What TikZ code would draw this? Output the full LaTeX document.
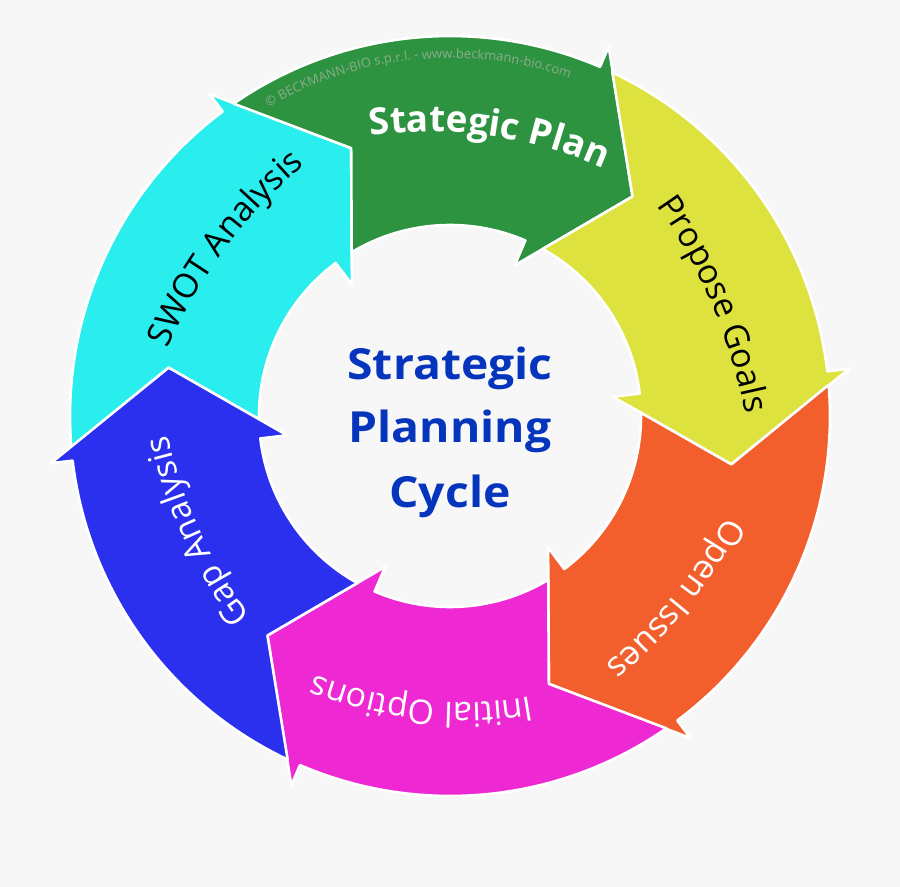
\documentclass[tikz,border=0pt]{standalone}
\usepackage{fontspec}
\setmainfont{Open Sans}
\usetikzlibrary{decorations.text,calc}
\definecolor{bgc}{RGB}{247,247,247}
\definecolor{cgreen}{RGB}{45,147,65}
\definecolor{cyellow}{RGB}{221,226,63}
\definecolor{corange}{RGB}{242,95,44}
\definecolor{cmagenta}{RGB}{238,41,212}
\definecolor{cblue}{RGB}{43,47,238}
\definecolor{ccyan}{RGB}{42,237,237}
\definecolor{ctitle}{RGB}{5,52,189}
\definecolor{cmark}{RGB}{140,172,140}
\newcommand\lblW{\fontsize{34}{40}\selectfont\color{white}}
\newcommand\lblK{\fontsize{34}{40}\selectfont\color{black}}
\newcommand\lblB{\fontsize{37}{44}\selectfont\bfseries\color{white}}
\newcommand\lblM{\fontsize{13}{16}\selectfont\color{cmark}}
% ring arrow: #1 colour, #2 barb angle of its head
\newcommand\ringarrow[2]{%
  \pgfmathsetmacro\ta{#2+60-2.04}%
  \pgfmathsetmacro\tb{#2+60-5.78}%
  \pgfmathsetmacro\tc{#2+60-16.5}%
  \pgfmathsetmacro\td{#2-16.5}%
  \filldraw[fill=#1, arrowedge]
    (\ta:380) arc[start angle=\ta, end angle=#2, radius=380]
    -- (#2:402) -- (\td:285.5) -- (#2:164) -- (#2:191)
    arc[start angle=#2, end angle=\tb, radius=191]
    -- (\tc:285.5) -- cycle;}
% label along a clockwise arc: #1 mid angle, #2 baseline radius, #3 curvature radius, #4 format, #5 text
\newcommand\arclabel[5]{%
  \pgfmathsetmacro\la{#1+25}%
  \pgfmathsetmacro\lb{#1-25}%
  \pgfmathsetmacro\lc{#1+180}%
  \path[decorate,decoration={text along path,text align=center,text={|#4|#5}}]
    ($(#1:#2)+(\lc:#3)+(\la:#3)$) arc[start angle=\la, end angle=\lb, radius=#3];}
\tikzset{
  arrowedge/.style={draw=white, line width=2.6bp, line join=round},
  titlestyle/.style={font=\fontsize{43}{50}\selectfont\bfseries, text=ctitle, inner sep=0pt, anchor=base, xscale=1.08, transform shape}
}
\begin{document}
\begin{tikzpicture}[x=1bp,y=1bp]
\useasboundingbox (-450,-471) rectangle (450,416);
\fill[bgc] (-450,-471) rectangle (450,416);
% ring of arrows
\ringarrow{ccyan}{126.75}
\ringarrow{cgreen}{66.75}
\ringarrow{cyellow}{6.75}
\ringarrow{corange}{-53.25}
\ringarrow{cmagenta}{-113.25}
\ringarrow{cblue}{-173.25}
% watermark
\path[decorate,decoration={text along path,text align=center,text={|\lblM|© BECKMANN-BIO s.p.r.l. - www.beckmann-bio.com}}]
  (131:358) arc[start angle=131, end angle=60, radius=358];
% labels
\arclabel{82}{283}{420}{\lblB}{Stategic Plan}
\arclabel{23}{285}{520}{\lblK}{Propose Goals}
\arclabel{-39}{287}{500}{\lblW}{Open Issues}
\arclabel{-95.8}{286}{400}{\lblW}{Initial Options}
\arclabel{-155.5}{275}{480}{\lblW}{Gap Analysis}
\arclabel{143.3}{280}{500}{\lblK}{SWOT Analysis}
% centre title
\node[titlestyle] (t1) at (0,36) {Strategic};
\node[titlestyle] (t2) at (0,-27) {Planning};
\node[titlestyle] (t3) at (0,-91) {Cycle};
\end{tikzpicture}
\end{document}
